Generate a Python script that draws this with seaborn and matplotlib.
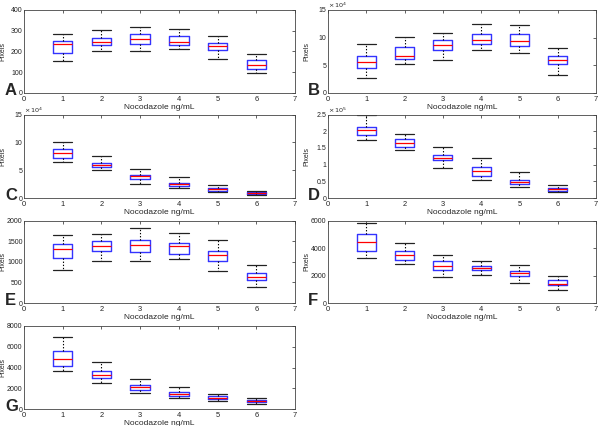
import numpy as np
import pandas as pd
import matplotlib
matplotlib.use("Agg")
import matplotlib.pyplot as plt
import seaborn as sns
from matplotlib.ticker import FuncFormatter

# Nocodazole doses (x positions)
doses = [1, 2, 3, 4, 5, 6]

# Five-number summaries per dose: [whisker low, Q1, median, Q3, whisker high]
A_stats = [[155, 195, 235, 252, 285], [200, 230, 248, 265, 305], [200, 235, 258, 282, 320],
           [212, 230, 245, 275, 308], [163, 205, 225, 240, 275], [98, 118, 135, 157, 190]]
B_stats = [[28000, 45000, 56000, 66500, 88000], [52000, 61000, 67500, 82500, 101000],
           [60000, 78000, 87500, 96500, 108500], [77000, 88500, 96000, 106000, 124000],
           [73000, 84500, 94000, 106000, 123000], [33000, 53000, 60500, 67000, 82000]]
C_stats = [[64000, 71500, 81000, 87500, 101000], [49500, 55000, 58500, 63500, 75500],
           [26000, 34500, 39000, 42000, 52000], [17500, 21000, 24500, 27500, 37500],
           [10000, 13000, 15500, 17500, 24000], [5500, 7000, 9000, 10500, 12000]]
D_stats = [[173000, 188000, 204000, 214000, 250000], [143000, 153000, 164000, 177000, 192000],
           [90000, 113000, 121000, 129000, 153000], [55000, 67000, 81000, 94000, 121000],
           [33000, 42000, 49000, 53000, 77000], [17000, 22000, 27000, 30000, 39000]]
E_stats = [[795, 1100, 1305, 1425, 1652], [1028, 1271, 1377, 1498, 1684],
           [1012, 1239, 1409, 1530, 1814], [1075, 1195, 1370, 1465, 1695],
           [770, 1010, 1162, 1255, 1518], [400, 550, 625, 725, 915]]
F_stats = [[3240, 3750, 4450, 5030, 5830], [2810, 3100, 3460, 3770, 4330],
           [1860, 2420, 2710, 3050, 3510], [2060, 2400, 2560, 2690, 3020],
           [1480, 1960, 2180, 2320, 2760], [970, 1280, 1400, 1690, 1960]]
G_stats = [[3650, 4100, 4860, 5570, 6910], [2530, 2980, 3260, 3620, 4510],
           [1500, 1790, 2080, 2270, 2910], [1060, 1280, 1470, 1660, 2110],
           [770, 960, 1090, 1220, 1440], [480, 640, 770, 860, 1060]]

panel_letters = ["A", "B", "C", "D", "E", "F", "G"]
y_max = [400, 150000, 150000, 250000, 2000, 6000, 8000]
y_step = [100, 50000, 50000, 50000, 500, 2000, 2000]
y_scale = [1, 1e4, 1e4, 1e5, 1, 1, 1]
x_label = "Nocodazole ng/mL"
y_label = "Pixels"

all_stats = [A_stats, B_stats, C_stats, D_stats, E_stats, F_stats, G_stats]

sns.set_theme(style="white")
plt.rcParams["font.family"] = ["Liberation Sans", "DejaVu Sans"]

W, H = 600, 426
fig = plt.figure(figsize=(6, 4.26), dpi=100)

col_x = [(24, 295), (328, 596)]
row_y = [(10, 93), (114.5, 198), (220.5, 303), (326, 409)]

for i, stats in enumerate(all_stats):
    r, c = divmod(i, 2)
    x0, x1 = col_x[c]
    yt, yb = row_y[r]
    ax = fig.add_axes([x0 / W, 1 - yb / H, (x1 - x0) / W, (yb - yt) / H])

    rows = []
    for d, s in zip(doses, stats):
        for v in s:
            rows.append({"dose": d, "value": v})
    df = pd.DataFrame(rows)

    sns.boxplot(data=df, x="dose", y="value", native_scale=True, whis=(0, 100),
                width=0.5, fill=False, color="#3333ff", linewidth=1.0, ax=ax,
                medianprops={"color": "#ff0000", "linewidth": 0.9},
                whiskerprops={"color": "black", "linestyle": (0, (1.2, 1.6)), "linewidth": 0.8},
                capprops={"color": "#222222", "linewidth": 0.9},
                showfliers=False)

    # make caps span the box width, MATLAB style
    for ln in ax.lines:
        xd, yd = np.asarray(ln.get_xdata(), float), np.asarray(ln.get_ydata(), float)
        if len(xd) == 2 and yd[0] == yd[1] and ln.get_color() in ("#222222",):
            cx = xd.mean()
            ln.set_xdata([cx - 0.25, cx + 0.25])

    ax.set_xlim(0, 7)
    ax.set_xticks(range(0, 8))
    ax.set_ylim(0, y_max[i])
    ax.set_yticks(np.arange(0, y_max[i] + 1, y_step[i]))
    sc = y_scale[i]
    ax.yaxis.set_major_formatter(FuncFormatter(lambda v, p, sc=sc: f"{v / sc:g}"))
    ax.set_xlabel(x_label, fontsize=6, labelpad=1)
    ax.set_ylabel(y_label, fontsize=5)
    ax.yaxis.set_label_coords(-0.066, 0.5)
    ax.tick_params(direction="in", top=True, right=True, length=2.5, width=0.5,
                   labelsize=5.4, colors="#222222")
    ax.tick_params(axis="y", pad=1.0, labelsize=5)
    ax.tick_params(axis="x", pad=2)
    for sp in ax.spines.values():
        sp.set_visible(True)
        sp.set_linewidth(0.6)
        sp.set_color("#444444")
    ax.grid(False)
    if sc != 1:
        ax.text(0.0, 1.0, r"$\times\,10^{%d}$" % int(round(np.log10(sc))),
                transform=ax.transAxes, fontsize=4.6, ha="left", va="bottom")

    lx = 5 if c == 0 else 308
    fig.text(lx / W, 1 - (yb + 5) / H, panel_letters[i], fontsize=12,
             fontweight="bold", ha="left", va="bottom")

fig.savefig("out.png", dpi=100)
